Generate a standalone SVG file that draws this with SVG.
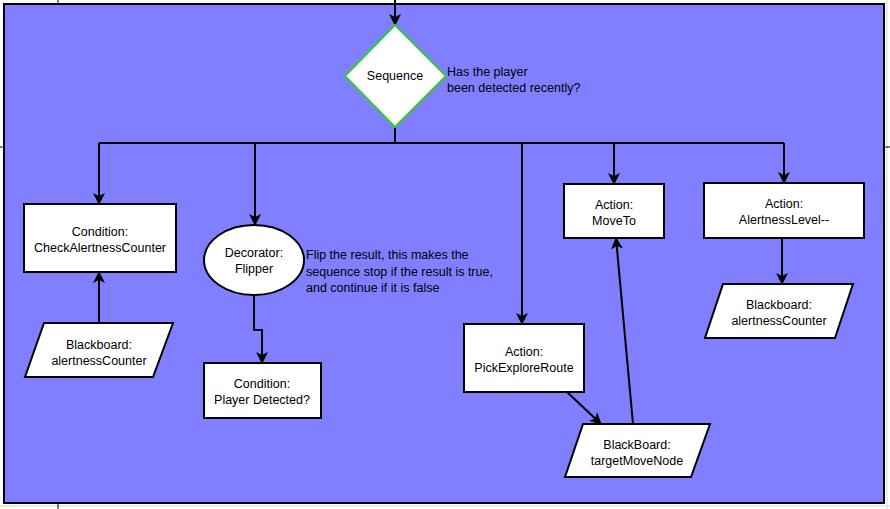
<svg xmlns="http://www.w3.org/2000/svg" width="890" height="509" viewBox="0 0 890 509">
<style>
.box{fill:#ffffff;stroke:#000000;stroke-width:2}
.t{font-family:"Liberation Sans",Arial,sans-serif;font-size:12.5px;fill:#000000;text-anchor:middle}
.n{font-family:"Liberation Sans",Arial,sans-serif;font-size:12.5px;fill:#000000}
.c{fill:none;stroke:#000000;stroke-width:2}
.g{stroke:#d8d8d8;stroke-width:1}
</style>
<defs>
<marker id="ah" viewBox="0 0 12 12" refX="11" refY="6" markerWidth="12" markerHeight="12" markerUnits="userSpaceOnUse" orient="auto">
<path d="M0,0 L12,6 L0,12 L3,6 z" fill="#000000"/>
</marker>
</defs>
<rect x="0" y="0" width="890" height="509" fill="#ffffff"/>
<g id="grid">
<line class="g" x1="0" y1="506" x2="890" y2="506"/>
<line class="g" x1="887" y1="0" x2="887" y2="509"/>
<line x1="58" y1="0" x2="58" y2="4" stroke="#000" stroke-width="1"/>
<line x1="58" y1="503" x2="58" y2="509" stroke="#000" stroke-width="1"/>
<line x1="0" y1="147" x2="4" y2="147" stroke="#000" stroke-width="1"/>
<line x1="884" y1="147" x2="890" y2="147" stroke="#000" stroke-width="1"/>
</g>
<rect id="container" x="4" y="4" width="880" height="499" fill="#7f7fff" stroke="#000000" stroke-width="2"/>
<g id="connectors">
<line class="c" x1="395" y1="0" x2="395" y2="25" marker-end="url(#ah)"/>
<line class="c" x1="395" y1="127" x2="395" y2="143"/>
<line class="c" x1="99" y1="143" x2="784" y2="143"/>
<line class="c" x1="99" y1="143" x2="99" y2="204" marker-end="url(#ah)"/>
<line class="c" x1="255" y1="143" x2="255" y2="225" marker-end="url(#ah)"/>
<line class="c" x1="522" y1="143" x2="522" y2="324" marker-end="url(#ah)"/>
<line class="c" x1="614" y1="143" x2="614" y2="184" marker-end="url(#ah)"/>
<line class="c" x1="784" y1="143" x2="784" y2="183" marker-end="url(#ah)"/>
<line class="c" x1="99" y1="323" x2="99" y2="272" marker-end="url(#ah)"/>
<polyline class="c" points="254,295 254,330 262,330 262,363" marker-end="url(#ah)"/>
<line class="c" x1="567" y1="392" x2="601" y2="424" marker-end="url(#ah)"/>
<line class="c" x1="633" y1="424" x2="616" y2="238" marker-end="url(#ah)"/>
<line class="c" x1="782" y1="238" x2="782" y2="284" marker-end="url(#ah)"/>
</g>
<g id="sequence">
<polygon points="395,25 446,76 395,127 345,76" fill="#ffffff" stroke="#33cc33" stroke-width="2"/>
<text class="t" x="395" y="80">Sequence</text>
</g>
<g id="note-sequence">
<text class="n" x="447" y="76">Has the player</text>
<text class="n" x="447" y="92">been detected recently?</text>
</g>
<g id="check-alertness">
<rect class="box" x="24" y="204" width="152" height="68"/>
<text class="t" x="100" y="236">Condition:</text>
<text class="t" x="100" y="252">CheckAlertnessCounter</text>
</g>
<g id="blackboard-left">
<polygon class="box" points="44,323 173,323 153,377 25,377"/>
<text class="t" x="99" y="349">Blackboard:</text>
<text class="t" x="99" y="365">alertnessCounter</text>
</g>
<g id="decorator">
<ellipse class="box" cx="254" cy="260" rx="50" ry="35"/>
<text class="t" x="254" y="257">Decorator:</text>
<text class="t" x="254" y="273">Flipper</text>
</g>
<g id="note-decorator">
<text class="n" x="306" y="259">Flip the result, this makes the</text>
<text class="n" x="306" y="276">sequence stop if the result is true,</text>
<text class="n" x="306" y="292">and continue if it is false</text>
</g>
<g id="player-detected">
<rect class="box" x="204" y="363" width="117" height="55"/>
<text class="t" x="262" y="388">Condition:</text>
<text class="t" x="262" y="404">Player Detected?</text>
</g>
<g id="pick-explore">
<rect class="box" x="464" y="324" width="120" height="68"/>
<text class="t" x="524" y="356">Action:</text>
<text class="t" x="524" y="372">PickExploreRoute</text>
</g>
<g id="target-move-node">
<polygon class="box" points="583,424 710,424 691,477 565,477"/>
<text class="t" x="637" y="449">BlackBoard:</text>
<text class="t" x="637" y="465">targetMoveNode</text>
</g>
<g id="move-to">
<rect class="box" x="564" y="184" width="100" height="54"/>
<text class="t" x="614" y="209">Action:</text>
<text class="t" x="614" y="225">MoveTo</text>
</g>
<g id="alertness-level">
<rect class="box" x="704" y="183" width="160" height="55"/>
<text class="t" x="784" y="208">Action:</text>
<text class="t" x="784" y="224">AlertnessLevel--</text>
</g>
<g id="blackboard-right">
<polygon class="box" points="723,284 853,284 835,338 705,338"/>
<text class="t" x="779" y="309">Blackboard:</text>
<text class="t" x="779" y="325">alertnessCounter</text>
</g>
</svg>
